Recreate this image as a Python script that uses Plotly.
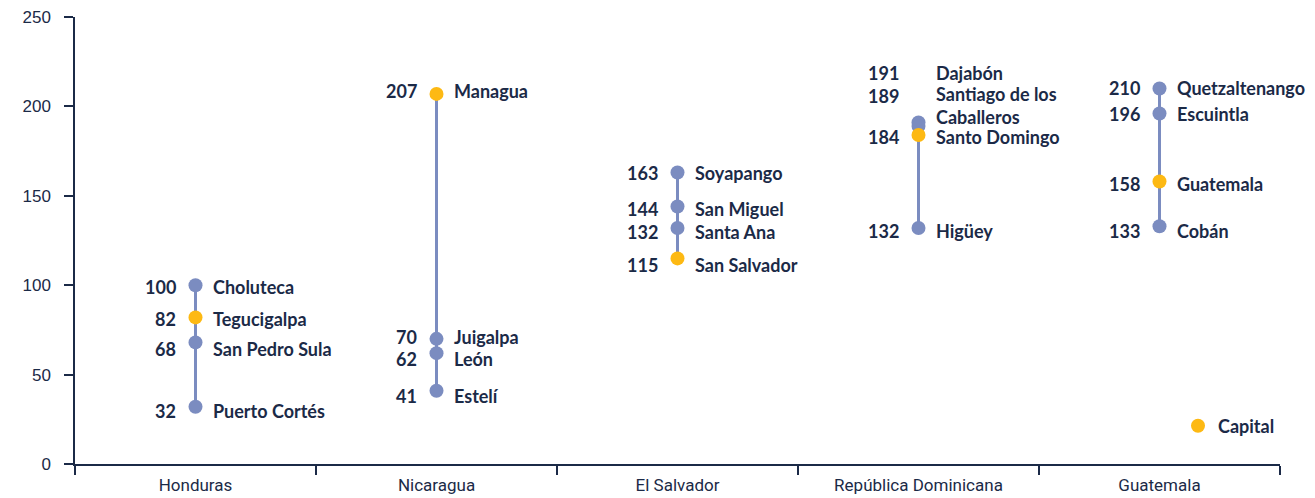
import plotly.graph_objects as go

# ---------------- data ----------------
countries = ["Honduras", "Nicaragua", "El Salvador", "República Dominicana", "Guatemala"]

city_country = [
    "Honduras", "Honduras", "Honduras", "Honduras",
    "Nicaragua", "Nicaragua", "Nicaragua", "Nicaragua",
    "El Salvador", "El Salvador", "El Salvador", "El Salvador",
    "República Dominicana", "República Dominicana", "República Dominicana", "República Dominicana",
    "Guatemala", "Guatemala", "Guatemala", "Guatemala",
]
city_names = [
    "Choluteca", "Tegucigalpa", "San Pedro Sula", "Puerto Cortés",
    "Managua", "Juigalpa", "León", "Estelí",
    "Soyapango", "San Miguel", "Santa Ana", "San Salvador",
    "Dajabón", "Santiago de los<br>Caballeros", "Santo Domingo", "Higüey",
    "Quetzaltenango", "Escuintla", "Guatemala", "Cobán",
]
city_values = [
    100, 82, 68, 32,
    207, 70, 62, 41,
    163, 144, 132, 115,
    191, 189, 184, 132,
    210, 196, 158, 133,
]
is_capital = [
    False, True, False, False,
    True, False, False, False,
    False, False, False, True,
    False, False, True, False,
    False, False, True, False,
]
y_ticks = [0, 50, 100, 150, 200, 250]

# ---------------- style ----------------
NAVY = "#1b2a47"
BLUE = "#7b8cc0"
YELLOW = "#fdb913"
LABEL_FONT = dict(family="Lato", size=18, color=NAVY, weight="bold")
# vertical pixel shifts for labels (name_shift, value_shift), + = up
label_shift = {
    "Choluteca": (-2, -2),
    "Tegucigalpa": (-2, -2),
    "San Pedro Sula": (-7, -7),
    "Puerto Cortés": (-4, -4),
    "Managua": (3, 3),
    "Juigalpa": (2, 2),
    "León": (-6, -6),
    "Estelí": (-5, -5),
    "San Miguel": (-2, -2),
    "Santa Ana": (-4, -4),
    "San Salvador": (-7, -7),
    "Dajabón": (49, 49),
    "Santiago de los<br>Caballeros": (21, 30),
    "Santo Domingo": (-2, -2),
    "Higüey": (-3, -3),
    "Quetzaltenango": (1, 1),
    "Guatemala": (-2, -2),
    "Cobán": (-5, -5),
}

fig = go.Figure()

# vertical range lines
for c in countries:
    vals = [v for cc, v in zip(city_country, city_values) if cc == c]
    fig.add_trace(go.Scatter(
        x=[c, c], y=[min(vals), max(vals)], mode="lines",
        line=dict(color=BLUE, width=3), showlegend=False, hoverinfo="skip",
    ))

# non-capital points
fig.add_trace(go.Scatter(
    x=[c for c, cap in zip(city_country, is_capital) if not cap],
    y=[v for v, cap in zip(city_values, is_capital) if not cap],
    mode="markers", marker=dict(color=BLUE, size=14),
    showlegend=False,
))
# capital points
fig.add_trace(go.Scatter(
    x=[c for c, cap in zip(city_country, is_capital) if cap],
    y=[v for v, cap in zip(city_values, is_capital) if cap],
    mode="markers", marker=dict(color=YELLOW, size=14),
    name="Capital", showlegend=True,
))

# labels
for c, n, v in zip(city_country, city_names, city_values):
    ns, vs = label_shift.get(n, (0, 0))
    fig.add_annotation(x=c, y=v, text=n, showarrow=False, xanchor="left",
                       yanchor="middle", xshift=15, yshift=ns, align="left",
                       font=LABEL_FONT)
    fig.add_annotation(x=c, y=v, text=str(v), showarrow=False, xanchor="right",
                       yanchor="middle", xshift=-18, yshift=vs,
                       font=LABEL_FONT)

fig.update_layout(
    width=1315, height=498,
    margin=dict(l=75, r=35, t=17, b=34, autoexpand=False),
    paper_bgcolor="white", plot_bgcolor="white",
    showlegend=True,
    legend=dict(x=1.0, xanchor="right", y=0.085, yanchor="middle",
                font=LABEL_FONT, bgcolor="rgba(0,0,0,0)", itemwidth=30),
    xaxis=dict(
        type="category", categoryorder="array", categoryarray=countries,
        range=[-0.5, 4.5], tickson="boundaries", ticks="outside",
        ticklen=9, tickwidth=1.5, tickcolor=NAVY,
        showline=True, linecolor=NAVY, linewidth=1.5, showgrid=False,
        tickfont=dict(family="Roboto", size=17, color=NAVY),
        zeroline=False, automargin=False, ticklabelstandoff=5,
    ),
    yaxis=dict(
        range=[0, 250], tickvals=y_ticks, ticks="outside", ticklen=9,
        tickwidth=1.5, tickcolor=NAVY, showline=True, linecolor=NAVY,
        linewidth=1.5, showgrid=False, zeroline=False,
        tickfont=dict(family="Liberation Sans", size=17, color=NAVY),
        ticklabelstandoff=10, automargin=False,
    ),
)

fig.write_html("out.html", config={"displayModeBar": False},
               post_script="document.body.style.margin='0';")
